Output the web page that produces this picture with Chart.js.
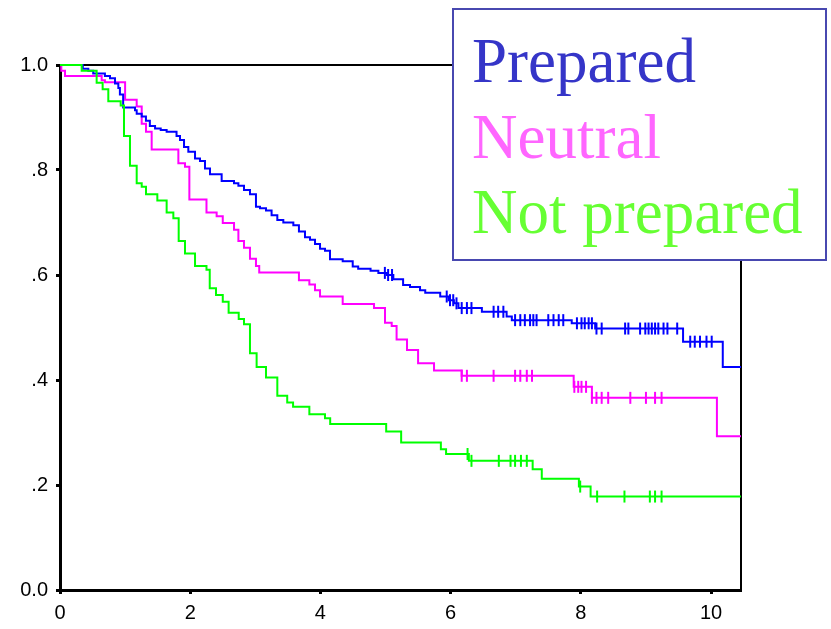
<!DOCTYPE html>
<html>
<head>
<meta charset="utf-8">
<script src="https://cdn.jsdelivr.net/npm/chart.js@4.4.1/dist/chart.umd.min.js"></script>
<style>
  html, body { margin: 0; padding: 0; background: #fff; }
  #wrap { width: 831px; height: 629px; }
</style>
</head>
<body>
<div id="wrap"><canvas id="km" width="831" height="629"></canvas></div>
<script>
/* DATA: survival steps (time, survival after the drop) */
const preparedTime = [0, 0.35, 0.435, 0.51, 0.69, 0.768, 0.845, 0.896, 0.92, 0.97, 1.152, 1.178, 1.255, 1.32, 1.38, 1.46, 1.547, 1.638, 1.79, 1.843, 1.905, 1.971, 2.074, 2.15, 2.227, 2.304, 2.483, 2.673, 2.74, 2.826, 2.918, 3.01, 3.072, 3.164, 3.25, 3.338, 3.43, 3.584, 3.67, 3.763, 3.84, 3.917, 3.994, 4.07, 4.147, 4.342, 4.496, 4.58, 4.77, 4.89, 5.02, 5.12, 5.27, 5.376, 5.53, 5.61, 5.84, 5.97, 6.05, 6.12, 6.48, 6.86, 6.94, 7.86, 8.22, 9.57, 10.18];
const preparedSurv = [1.0, 0.993, 0.989, 0.984, 0.979, 0.975, 0.965, 0.956, 0.944, 0.919, 0.914, 0.907, 0.902, 0.894, 0.884, 0.879, 0.876, 0.873, 0.865, 0.857, 0.844, 0.835, 0.822, 0.817, 0.803, 0.792, 0.779, 0.775, 0.770, 0.762, 0.754, 0.730, 0.727, 0.723, 0.714, 0.705, 0.700, 0.695, 0.683, 0.672, 0.667, 0.659, 0.650, 0.646, 0.630, 0.626, 0.616, 0.612, 0.608, 0.604, 0.600, 0.592, 0.581, 0.577, 0.571, 0.566, 0.559, 0.552, 0.546, 0.537, 0.530, 0.521, 0.514, 0.508, 0.498, 0.473, 0.425];
const preparedCensor = [4.99, 5.04, 5.10, 5.94, 5.99, 6.04, 6.09, 6.17, 6.25, 6.32, 6.66, 6.73, 6.81, 6.99, 7.07, 7.14, 7.22, 7.27, 7.32, 7.50, 7.58, 7.66, 7.73, 7.94, 8.01, 8.06, 8.12, 8.17, 8.24, 8.32, 8.68, 8.73, 8.91, 8.99, 9.04, 9.09, 9.14, 9.19, 9.27, 9.33, 9.48, 9.68, 9.75, 9.83, 9.93, 10.01];

const neutralTime = [0, 0.02, 0.077, 0.64, 0.69, 1.0, 1.178, 1.255, 1.321, 1.408, 1.818, 1.92, 1.987, 2.25, 2.406, 2.5, 2.673, 2.74, 2.826, 2.918, 3.01, 3.06, 3.67, 3.83, 3.917, 3.994, 4.342, 4.823, 4.992, 5.095, 5.17, 5.33, 5.50, 5.745, 6.17, 7.89, 8.17, 10.09];
const neutralSurv = [1.0, 0.989, 0.979, 0.971, 0.967, 0.934, 0.921, 0.888, 0.873, 0.839, 0.813, 0.806, 0.744, 0.719, 0.712, 0.699, 0.686, 0.665, 0.652, 0.631, 0.617, 0.605, 0.590, 0.582, 0.571, 0.559, 0.545, 0.537, 0.509, 0.503, 0.477, 0.457, 0.432, 0.418, 0.408, 0.387, 0.366, 0.293];
const neutralCensor = [6.17, 6.25, 6.66, 6.99, 7.07, 7.17, 7.25, 7.90, 7.96, 8.01, 8.08, 8.17, 8.24, 8.32, 8.42, 8.76, 9.00, 9.14, 9.24];

const notPrepTime = [0, 0.333, 0.563, 0.655, 0.742, 0.932, 0.983, 1.075, 1.178, 1.255, 1.321, 1.495, 1.638, 1.741, 1.823, 1.92, 2.074, 2.25, 2.30, 2.396, 2.50, 2.59, 2.745, 2.826, 2.918, 3.02, 3.164, 3.338, 3.49, 3.58, 3.83, 4.07, 4.15, 5.01, 5.24, 5.85, 5.93, 6.28, 7.26, 7.40, 7.97, 8.15];
const notPrepSurv = [1.0, 0.989, 0.966, 0.954, 0.931, 0.923, 0.865, 0.808, 0.775, 0.768, 0.754, 0.742, 0.719, 0.708, 0.665, 0.641, 0.617, 0.610, 0.575, 0.562, 0.549, 0.528, 0.516, 0.506, 0.451, 0.425, 0.405, 0.370, 0.357, 0.349, 0.335, 0.327, 0.316, 0.302, 0.281, 0.268, 0.259, 0.246, 0.230, 0.212, 0.197, 0.178];
const notPrepCensor = [6.26, 6.32, 6.74, 6.92, 6.99, 7.08, 7.17, 7.99, 8.25, 8.67, 9.06, 9.14, 9.24];

const xTicks = [0, 2, 4, 6, 8, 10];
const yTicks = [0, 0.2, 0.4, 0.6, 0.8, 1];
const yTickLabels = ["0.0", ".2", ".4", ".6", ".8", "1.0"];
const groupNames = ["Prepared", "Neutral", "Not prepared"];
const X_END = 10.46;

/* helpers */
function stepPoints(times, surv) {
    const pts = times.map((t, i) => ({x: t, y: surv[i]}));
    pts.push({x: X_END, y: surv[surv.length - 1]});
    return pts;
}
function survAt(times, surv, t) {
    let s = surv[0];
    for (let i = 0; i < times.length; i++) if (times[i] <= t) s = surv[i];
    return s;
}
function censorPoints(times, surv, cens) {
    return cens.map(t => ({x: t, y: survAt(times, surv, t)}));
}

const curveStyle = (color, order) => ({
    type: "line", stepped: "before", borderColor: color, borderWidth: 2,
    pointRadius: 0, fill: false, order: order
});
const censorStyle = (color, order) => ({
    type: "scatter", showLine: false, pointStyle: "line", rotation: 90,
    pointRadius: 6, pointBorderWidth: 2, borderColor: color, backgroundColor: color, order: order
});

/* frame + legend box */
const framePlugin = {
    id: "frame",
    beforeDatasetsDraw(chart) {
        const {ctx, chartArea: a} = chart;
        ctx.save();
        ctx.strokeStyle = "#000";
        ctx.lineWidth = 2;
        ctx.beginPath();
        ctx.moveTo(a.left, a.top);
        ctx.lineTo(a.right, a.top);
        ctx.lineTo(a.right, a.bottom);
        ctx.stroke();
        ctx.restore();
    },
    afterDraw(chart) {
        const ctx = chart.ctx;
        ctx.save();
        ctx.fillStyle = "#fff";
        ctx.fillRect(453, 9, 373, 251);
        ctx.strokeStyle = "#4848b0";
        ctx.lineWidth = 2;
        ctx.strokeRect(453, 9, 373, 251);
        ctx.font = "63px 'Liberation Serif', 'Times New Roman', serif";
        ctx.textBaseline = "alphabetic";
        const colors = ["#3535c8", "#ff66ff", "#66ff33"];
        const baselines = [82, 158, 233];
        groupNames.forEach((n, i) => {
            ctx.fillStyle = colors[i];
            ctx.fillText(n, 472, baselines[i]);
        });
        ctx.restore();
    }
};

const tickFont = {family: "'Liberation Sans', Arial, sans-serif", size: 20};

new Chart(document.getElementById("km"), {
    data: {
        datasets: [
            Object.assign({label: groupNames[0], data: stepPoints(preparedTime, preparedSurv)}, curveStyle("#0000ff", 3)),
            Object.assign({label: groupNames[1], data: stepPoints(neutralTime, neutralSurv)}, curveStyle("#ff00ff", 4)),
            Object.assign({label: groupNames[2], data: stepPoints(notPrepTime, notPrepSurv)}, curveStyle("#00ff00", 2)),
            Object.assign({label: "c1", data: censorPoints(preparedTime, preparedSurv, preparedCensor)}, censorStyle("#0000ff", 3)),
            Object.assign({label: "c2", data: censorPoints(neutralTime, neutralSurv, neutralCensor)}, censorStyle("#ff00ff", 4)),
            Object.assign({label: "c3", data: censorPoints(notPrepTime, notPrepSurv, notPrepCensor)}, censorStyle("#00ff00", 2))
        ]
    },
    options: {
        responsive: false,
        animation: false,
        devicePixelRatio: 1,
        clip: false,
        layout: { padding: {left: 0, right: 90, top: 65, bottom: 0} },
        plugins: { legend: {display: false}, tooltip: {enabled: false} },
        scales: {
            x: {
                type: "linear", min: 0, max: X_END,
                afterBuildTicks: s => { s.ticks = xTicks.map(v => ({value: v})); },
                afterFit: s => { s.height = 39; },
                ticks: { color: "#000", font: tickFont, padding: 7, maxRotation: 0,
                         callback: v => String(v) },
                grid: { drawOnChartArea: false, drawTicks: true, tickLength: 4, tickWidth: 3, color: "#000" },
                border: { color: "#000", width: 3 }
            },
            y: {
                type: "linear", min: 0, max: 1,
                afterBuildTicks: s => { s.ticks = yTicks.map(v => ({value: v})); },
                afterFit: s => { s.width = 60; },
                ticks: { color: "#000", font: tickFont, padding: 8,
                         callback: v => yTickLabels[yTicks.indexOf(Math.round(v * 10) / 10)] },
                grid: { drawOnChartArea: false, drawTicks: true, tickLength: 4, tickWidth: 3, color: "#000" },
                border: { color: "#000", width: 3 }
            }
        }
    },
    plugins: [framePlugin]
});
</script>
</body>
</html>
